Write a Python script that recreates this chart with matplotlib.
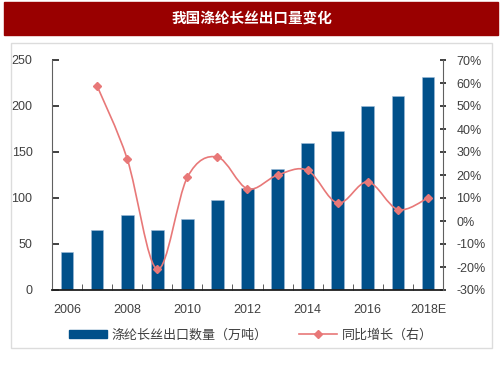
import matplotlib.pyplot as plt
from matplotlib.patches import Rectangle, PathPatch
from matplotlib.path import Path
from matplotlib.lines import Line2D
import numpy as np

plt.rcParams['font.family'] = ['Liberation Sans', 'Noto Sans CJK SC', 'DejaVu Sans']

years = ['2006', '2007', '2008', '2009', '2010', '2011', '2012',
         '2013', '2014', '2015', '2016', '2017', '2018E']
export_qty = [41, 65, 82, 65, 77, 98, 111, 132, 160, 173, 200, 211, 232]
yoy = [None, 58.7, 27.0, -21.0, 19.0, 27.8, 14.0, 20.0, 22.0, 7.8, 17.0, 5.0, 10.0]

bar_color = '#00508a'
line_color = '#e87878'
W, H = 503, 378

fig = plt.figure(figsize=(W / 100, H / 100), dpi=100)

# title banner and frame
fig.patches.append(Rectangle((4 / W, 1 - 35 / H), 494 / W, 33 / H,
                             transform=fig.transFigure, color='#990000', zorder=0))
fig.text(0.5, 1 - 18 / H, '我国涤纶长丝出口量变化', color='white', fontsize=10.5,
         fontweight='bold', ha='center', va='center', family=['Noto Sans CJK SC'])
fig.patches.append(Rectangle((11 / W, 1 - 348 / H), 481 / W, 305 / H,
                             transform=fig.transFigure, fill=False,
                             edgecolor='#dcdcdc', lw=1, zorder=0))

ax = fig.add_axes([52 / W, 1 - 290 / H, 391 / W, 230 / H])
ax.patch.set_alpha(0)
x = np.arange(len(years))
ax.bar(x, export_qty, width=0.42, color=bar_color, edgecolor='#9fbcd8', lw=0.4, zorder=2)
ax.set_xlim(-0.5, len(years) - 0.5)
ax.set_ylim(0, 250)
ax.set_yticks(range(0, 251, 50))
ax.set_xticks(x[::2])
ax.set_xticklabels(years[::2])
ax.set_xticks(np.arange(-0.5, len(years), 1), minor=True)
ax.tick_params(axis='x', which='major', length=0, pad=10, labelsize=9, labelcolor='#404040')
ax.tick_params(axis='x', which='minor', direction='in', length=4, color='#404040')
ax.tick_params(axis='y', direction='in', length=5, width=1.2, color='#202020',
               labelsize=9, labelcolor='#404040', pad=14)
ax.spines['top'].set_visible(False)
ax.spines['right'].set_visible(False)
ax.spines['left'].set_color('#606060')
ax.spines['bottom'].set_color('#202020')
ax.spines['bottom'].set_linewidth(1.3)

ax2 = ax.twinx()
ax2.set_ylim(-30, 70)
ax2.set_yticks(range(-30, 71, 10))
ax2.set_yticklabels([f'{v}%' for v in range(-30, 71, 10)])
ax2.tick_params(axis='y', direction='inout', length=5, width=1.2, color='#202020',
                labelsize=9, labelcolor='#404040', pad=7)
for s in ['top', 'left', 'bottom']:
    ax2.spines[s].set_visible(False)
ax2.spines['right'].set_color('#606060')

# smooth line drawn as bezier path through the data points
px = [i for i, v in enumerate(yoy) if v is not None]
py = [v for v in yoy if v is not None]
verts = [(px[0], py[0])]
codes = [Path.MOVETO]
n = len(px)
for i in range(n - 1):
    p0 = (px[max(i - 1, 0)], py[max(i - 1, 0)])
    p1 = (px[i], py[i])
    p2 = (px[i + 1], py[i + 1])
    p3 = (px[min(i + 2, n - 1)], py[min(i + 2, n - 1)])
    c1 = (p1[0] + (p2[0] - p0[0]) / 6, p1[1] + (p2[1] - p0[1]) / 6)
    c2 = (p2[0] - (p3[0] - p1[0]) / 6, p2[1] - (p3[1] - p1[1]) / 6)
    verts += [c1, c2, p2]
    codes += [Path.CURVE4] * 3
ax2.add_patch(PathPatch(Path(verts, codes), fill=False, edgecolor=line_color, lw=1.2, zorder=3))
ax2.plot(px, py, linestyle='none', marker='D', markersize=4.5, color=line_color, zorder=4)

handles = [Rectangle((0, 0), 1, 1, color=bar_color),
           Line2D([], [], color=line_color, marker='D', markersize=4, lw=1.2)]
fig.legend(handles, ['涤纶长丝出口数量（万吨）', '同比增长（右）'],
           loc='center', bbox_to_anchor=(251 / W, 1 - 335 / H), ncol=2, frameon=False,
           handlelength=2.9, handleheight=0.6, handletextpad=0.35, columnspacing=2.4,
           prop={'family': ['Noto Sans CJK SC'], 'size': 9.4},
           labelcolor='#404040')

fig.savefig('out.png', dpi=100)
